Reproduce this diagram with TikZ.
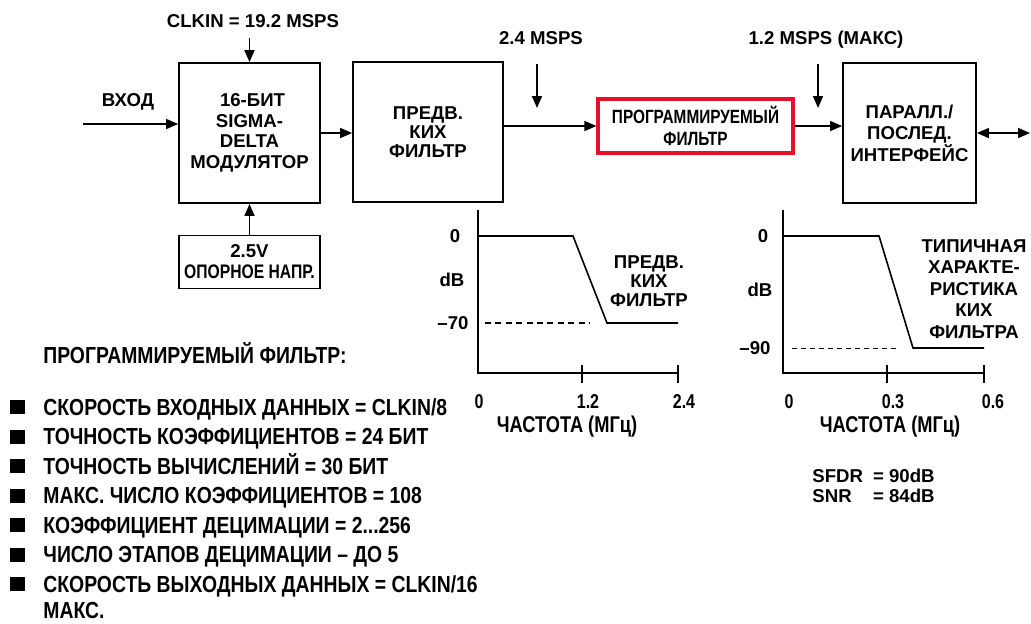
\documentclass[tikz,border=0pt]{standalone}
\usepackage{fontspec}
\setmainfont{Liberation Sans}
\newfontfamily\narA{Liberation Sans}[FakeStretch=0.8]
\newfontfamily\narB{Liberation Sans}[FakeStretch=0.835]
\usetikzlibrary{arrows.meta}
\definecolor{boxred}{RGB}{232,16,40}
\newcommand{\fmain}{\bfseries\fontsize{9.3}{10.4}\selectfont}
\newcommand{\fnar}{\narA\bfseries\fontsize{10}{11}\selectfont}
\newcommand{\ffreq}{\narA\bfseries\fontsize{11.4}{12}\selectfont}
\newcommand{\flist}{\narB\bfseries\fontsize{11.6}{13}\selectfont}
\tikzset{
  lbl/.style={inner sep=0pt, font=\fmain, align=center},
  one/.style={inner sep=0pt, font=\fmain, text height=6.7pt, text depth=0pt},
  nar/.style={inner sep=0pt, font=\fnar, text height=7.2pt, text depth=0pt},
  freq/.style={inner sep=0pt, font=\ffreq, text height=8.2pt, text depth=0pt},
  item/.style={inner sep=0pt, font=\flist, anchor=west, text height=8.3pt, text depth=0pt},
  blk/.style={draw, line width=0.9pt, inner sep=0pt, align=center},
  conn/.style={line width=0.8pt, -{Triangle[length=6pt,width=5pt]}},
  biconn/.style={line width=0.8pt, {Triangle[length=6pt,width=5pt]}-{Triangle[length=6pt,width=5pt]}},
  axisline/.style={line width=0.8pt},
  curve/.style={line width=0.8pt, line join=miter},
  dashA/.style={line width=0.8pt, dash pattern=on 3pt off 2.2pt},
  dashB/.style={line width=0.5pt, dash pattern=on 2.5pt off 2pt},
  bullet/.style={fill=black}
}
\begin{document}
\begin{tikzpicture}[x=0.5pt,y=-0.5pt]
\useasboundingbox (0,0) rectangle (1031,623);

% ---------- top labels ----------
\node[one] (clk) at (253,21) {CLKIN = 19.2 MSPS};
\coordinate (clkA) at (249.5,38);
\node[one] (vhod) at (128,100) {ВХОД};
\coordinate (inA) at (83,124);
\node[one] (r24) at (541,38) {2.4 MSPS};
\coordinate (r24A) at (537,64);
\coordinate (r24B) at (537,108);
\node[one] (r12) at (826,38) {1.2 MSPS (МАКС)};
\coordinate (r12A) at (818,64);
\coordinate (r12B) at (818,108);
\coordinate (outA) at (1030,133);

% ---------- blocks ----------
\node[blk, minimum width=70.5pt, minimum height=70pt, font=\bfseries\fontsize{9.3}{10.3}\selectfont] (mod) at (249.5,133) {\hspace*{3pt}16-БИТ\\SIGMA-\\DELTA\\МОДУЛЯТОР};
\node[blk, minimum width=75pt, minimum height=70pt, font=\bfseries\fontsize{9.3}{9.4}\selectfont] (fir) at (428,132) {ПРЕДВ.\\КИХ\\ФИЛЬТР};
\node[blk, draw=boxred, line width=1.6pt, minimum width=97.5pt, minimum height=27pt, font=\narA\bfseries\fontsize{9.6}{11}\selectfont] (prog) at (695.5,126) {ПРОГРАММИРУЕМЫЙ\\ФИЛЬТР};
\node[blk, minimum width=66.5pt, minimum height=70pt, font=\bfseries\fontsize{9.3}{10.8}\selectfont] (ifc) at (909.5,133) {ПАРАЛЛ./\\ПОСЛЕД.\\ИНТЕРФЕ\symbol{"0419}С};
\node[blk, minimum width=70.5pt, minimum height=26.5pt, font=\bfseries\fontsize{9.3}{10.5}\selectfont] (ref) at (249.5,262) {2.5V\\{\narA\fontsize{9.8}{10.5}\selectfont ОПОРНОЕ НАПР.}};

% ---------- connectors ----------
\draw[conn] (clkA) -- (mod.north);
\draw[conn] (inA) -- (inA -| mod.west);
\draw[conn] (mod.east) -- (fir.west |- mod.east);
\draw[conn] (fir.east |- prog.west) -- (prog.west);
\draw[conn] (prog.east) -- (prog.east -| ifc.west);
\draw[conn] (ref.north) -- (mod.south);
\draw[conn] (r24A) -- (r24B);
\draw[conn] (r12A) -- (r12B);
\draw[biconn] (ifc.east |- outA) -- (outA);

% ---------- graph 1 ----------
\draw[axisline] (477.7,210) -- (477.7,373) -- (678,373);
\draw[axisline] (582,365) -- (582,383);
\draw[axisline] (678,365) -- (678,383);
\draw[curve] (477.7,236) -- (573,236) -- (607,323) -- (678,323);
\draw[dashA] (485,323) -- (590,323);
\node[one] (g1z) at (455,236) {0};
\node[one] (g1db) at (452,280) {dB};
\node[one] (g1m) at (453,323) {–70};
\node[nar] (g1t0) at (479,401) {0};
\node[nar] (g1t1) at (588,401) {1.2};
\node[nar] (g1t2) at (684,401) {2.4};
\node[freq] (g1f) at (567,424) {ЧАСТОТА (МГц)};
\node[lbl, font=\bfseries\fontsize{9.3}{9.5}\selectfont] (g1l) at (649,281) {ПРЕДВ.\\КИХ\\ФИЛЬТР};

% ---------- graph 2 ----------
\draw[axisline] (782.7,210) -- (782.7,373) -- (984,373);
\draw[axisline] (887,365) -- (887,383);
\draw[axisline] (984,365) -- (984,383);
\draw[curve] (782.7,236) -- (879,236) -- (913,348) -- (984,348);
\draw[dashB] (792,348) -- (897,348);
\node[one] (g2z) at (763,236) {0};
\node[one] (g2db) at (760,290) {dB};
\node[one] (g2m) at (755,348) {–90};
\node[nar] (g2t0) at (789,401) {0};
\node[nar] (g2t1) at (893,401) {0.3};
\node[nar] (g2t2) at (993,401) {0.6};
\node[freq] (g2f) at (890,424) {ЧАСТОТА (МГц)};
\node[lbl, font=\bfseries\fontsize{9.3}{10.75}\selectfont] (g2l) at (974,289) {ТИПИЧНАЯ\\ХАРАКТЕ-\\РИСТИКА\\КИХ\\ФИЛЬТРА};

% ---------- SFDR / SNR ----------
\node[inner sep=0pt, anchor=west, font=\bfseries\fontsize{9.3}{10}\selectfont] (snr) at (812,488)
  {\begin{tabular}{@{}l@{\hspace{5pt}}l@{}}SFDR & = 90dB\\ SNR & = 84dB\end{tabular}};

% ---------- list ----------
\node[item] (lh) at (43,355) {ПРОГРАММИРУЕМЫЙ ФИЛЬТР:};
\foreach \yy in {407,436.5,466,495.5,525,554.5,584}
  \fill[bullet] (10,\yy-7) rectangle (25,\yy+7);
\node[item] (l1) at (43,407) {СКОРОСТЬ ВХОДНЫХ ДАННЫХ = CLKIN/8};
\node[item] (l2) at (43,436.5) {ТОЧНОСТЬ КОЭФФИЦИЕНТОВ = 24 БИТ};
\node[item] (l3) at (43,466) {ТОЧНОСТЬ ВЫЧИСЛЕНИ\symbol{"0419} = 30 БИТ};
\node[item] (l4) at (43,495.5) {МАКС. ЧИСЛО КОЭФФИЦИЕНТОВ = 108};
\node[item] (l5) at (43,525) {КОЭФФИЦИЕНТ ДЕЦИМАЦИИ = 2...256};
\node[item] (l6) at (43,554.5) {ЧИСЛО ЭТАПОВ ДЕЦИМАЦИИ – ДО 5};
\node[item] (l7) at (43,584) {СКОРОСТЬ ВЫХОДНЫХ ДАННЫХ = CLKIN/16};
\node[item] (l8) at (43,610) {МАКС.};
\end{tikzpicture}
\end{document}
